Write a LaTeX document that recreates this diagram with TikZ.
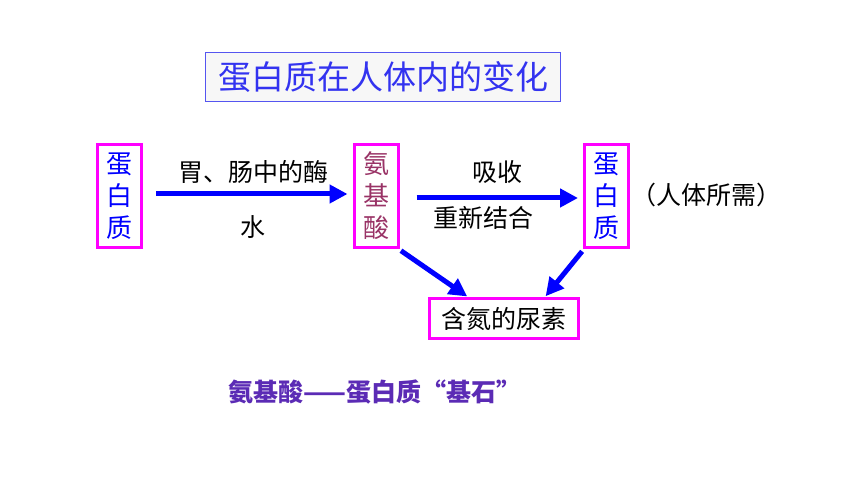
\documentclass[tikz,border=0pt]{standalone}
\usepackage{fontspec}
\setmainfont{Noto Sans CJK SC}
\newfontfamily\cjk{Noto Sans CJK SC}
\usetikzlibrary{arrows.meta}
\definecolor{titleblue}{HTML}{3333F0}
\definecolor{titleframe}{HTML}{5555F0}
\definecolor{titlefill}{HTML}{F7F7F7}
\definecolor{mag}{HTML}{FF00FF}
\definecolor{pblue}{HTML}{0000FF}
\definecolor{mauve}{HTML}{993366}
\definecolor{purp}{HTML}{5B2BB5}
\tikzset{
  vbox/.style={draw=mag, line width=3pt, inner sep=0pt, minimum width=44pt, minimum height=103pt, align=center, font=\cjk\fontsize{26pt}{32pt}\selectfont},
  hbox/.style={draw=mag, line width=3pt, inner sep=0pt, minimum width=149pt, minimum height=40pt, font=\cjk\fontsize{25pt}{30pt}\selectfont},
  lbl/.style={inner sep=0pt, font=\cjk\fontsize{25pt}{30pt}\selectfont, text=black},
  arr/.style={draw=pblue, line width=5pt, -{Triangle[length=18pt,width=18pt]}},
}
\begin{document}
\begin{tikzpicture}[x=1pt,y=-1pt]
\useasboundingbox (0,0) rectangle (860,484);
\node[draw=titleframe, fill=titlefill, line width=1.2pt, minimum width=355pt, minimum height=49pt, inner sep=0pt, text=titleblue, font=\cjk\fontsize{33pt}{40pt}\selectfont] (title) at (383,77) {蛋白质在人体内的变化};
\node[vbox, text=pblue] (lb) at (119.5,196) {蛋\\白\\质};
\node[vbox, text=mauve] (mb) at (376,196) {氨\\基\\酸};
\node[vbox, text=pblue] (rb) at (606.5,196) {蛋\\白\\质};
\node[hbox] (ub) at (504,318.5) {含氮的尿素};
\node[lbl] (l1) at (253,172) {胃、肠中的酶};
\node[lbl] (l2) at (253,227) {水};
\node[lbl] (l3) at (497,172) {吸收};
\node[lbl] (l4) at (483,218) {重新结合};
\node[lbl] (l5) at (706,195) {（人体所需）};
\draw[arr, shorten <=13pt, shorten >=5pt] ([yshift=2pt]lb.east) -- ([yshift=2pt]mb.west);
\draw[arr, shorten <=17pt, shorten >=5pt] ([yshift=-2pt]mb.east) -- ([yshift=-2pt]rb.west);
\draw[arr, shorten <=3pt, shorten >=1pt] ([xshift=-1pt]mb.south east) -- ([xshift=-36pt]ub.north);
\draw[arr, shorten <=3pt, shorten >=1pt] ([xshift=1pt]rb.south west) -- ([xshift=41pt]ub.north);
\node[inner sep=0pt, text=purp, font=\cjk\bfseries\fontsize{25pt}{30pt}\selectfont] (foot) at (375,392) {氨基酸——蛋白质“基石”};
\end{tikzpicture}
\end{document}
